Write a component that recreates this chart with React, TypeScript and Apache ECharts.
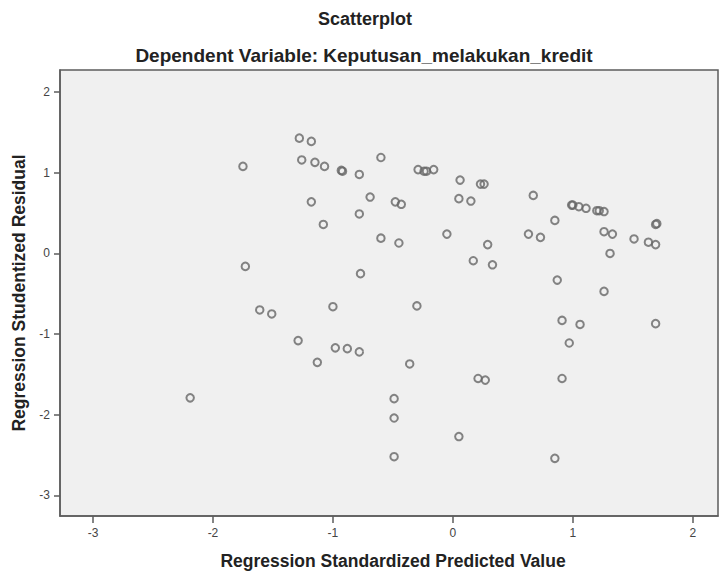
import React, { useEffect, useRef } from "react";
import * as echarts from "echarts";

const chartTitle = "Scatterplot";
const chartSubtitle = "Dependent Variable: Keputusan_melakukan_kredit";
const xAxisTitle = "Regression Standardized Predicted Value";
const yAxisTitle = "Regression Studentized Residual";

const xTickValues = [-3, -2, -1, 0, 1, 2];
const yTickValues = [-3, -2, -1, 0, 1, 2];

const predictedValues = [
  -2.19, -1.75, -1.73, -1.61, -1.51, -1.29, -1.28, -1.26, -1.18, -1.18,
  -1.15, -1.13, -1.08, -1.07, -1.0, -0.98, -0.93, -0.92, -0.88, -0.78,
  -0.78, -0.78, -0.77, -0.69, -0.6, -0.6, -0.49, -0.49, -0.49, -0.48,
  -0.45, -0.43, -0.36, -0.3, -0.29, -0.24, -0.22, -0.16, -0.05, 0.05,
  0.05, 0.06, 0.15, 0.17, 0.21, 0.23, 0.26, 0.27, 0.29, 0.33,
  0.63, 0.67, 0.73, 0.85, 0.85, 0.87, 0.91, 0.91, 0.97, 0.99,
  1.0, 1.05, 1.06, 1.11, 1.2, 1.22, 1.26, 1.26, 1.26, 1.31,
  1.33, 1.51, 1.63, 1.69, 1.7, 1.69, 1.69,
];

const residualValues = [
  -1.79, 1.08, -0.16, -0.7, -0.75, -1.08, 1.43, 1.16, 1.39, 0.64,
  1.13, -1.35, 0.36, 1.08, -0.66, -1.17, 1.03, 1.02, -1.18, 0.98,
  0.49, -1.22, -0.25, 0.7, 1.19, 0.19, -1.8, -2.04, -2.52, 0.64,
  0.13, 0.61, -1.37, -0.65, 1.04, 1.02, 1.02, 1.04, 0.24, -2.27,
  0.68, 0.91, 0.65, -0.09, -1.55, 0.86, 0.86, -1.57, 0.11, -0.14,
  0.24, 0.72, 0.2, 0.41, -2.54, -0.33, -0.83, -1.55, -1.11, 0.6,
  0.6, 0.58, -0.88, 0.56, 0.53, 0.53, 0.52, 0.27, -0.47, 0.0,
  0.24, 0.18, 0.14, 0.36, 0.37, 0.11, -0.87,
];

const FONT = "'Liberation Sans', Arial, sans-serif";

export default function App() {
  const ref = useRef<HTMLDivElement>(null);

  useEffect(() => {
    if (!ref.current) return;
    const chart = echarts.init(ref.current, undefined, { renderer: "svg" });
    const points = predictedValues.map((x, i) => [x, residualValues[i]]);

    chart.setOption({
      animation: false,
      backgroundColor: "#ffffff",
      textStyle: { fontFamily: FONT },
      grid: {
        left: 60,
        top: 70,
        right: 2,
        bottom: 65,
        show: true,
        backgroundColor: "#f0f0f0",
        borderColor: "#5c5c5c",
        borderWidth: 1.5,
      },
      xAxis: {
        type: "value",
        min: -3.275,
        max: 2.21,
        axisLine: {
          show: true,
          onZero: false,
          lineStyle: { color: "#5c5c5c", width: 1.5 },
        },
        axisTick: {
          show: true,
          length: 7,
          customValues: xTickValues,
          lineStyle: { color: "#5c5c5c", width: 1.5 },
        },
        axisLabel: {
          customValues: xTickValues,
          margin: 11,
          fontSize: 12,
          color: "#444",
          fontFamily: FONT,
        },
        splitLine: { show: false },
      },
      yAxis: {
        type: "value",
        min: -3.255,
        max: 2.275,
        axisLine: {
          show: true,
          onZero: false,
          lineStyle: { color: "#5c5c5c", width: 1.5 },
        },
        axisTick: {
          show: true,
          length: 6,
          customValues: yTickValues,
          lineStyle: { color: "#5c5c5c", width: 1.5 },
        },
        axisLabel: {
          customValues: yTickValues,
          margin: 10,
          fontSize: 12,
          color: "#444",
          fontFamily: FONT,
        },
        splitLine: { show: false },
      },
      series: [
        {
          type: "scatter",
          data: points,
          symbol: "circle",
          symbolSize: 7.5,
          itemStyle: {
            color: "rgba(0,0,0,0)",
            borderColor: "#666666",
            borderWidth: 2,
          },
          emphasis: { disabled: true },
        },
      ],
      graphic: [
        {
          type: "text",
          x: 365,
          y: 19,
          style: {
            text: chartTitle,
            fontSize: 18,
            fontWeight: "bold",
            fontFamily: FONT,
            fill: "#222",
            align: "center",
            verticalAlign: "middle",
          },
        },
        {
          type: "text",
          x: 364,
          y: 55,
          style: {
            text: chartSubtitle,
            fontSize: 19,
            fontWeight: "bold",
            fontFamily: FONT,
            fill: "#222",
            align: "center",
            verticalAlign: "middle",
          },
        },
        {
          type: "text",
          x: 393,
          y: 561,
          style: {
            text: xAxisTitle,
            fontSize: 17.5,
            fontWeight: "bold",
            fontFamily: FONT,
            fill: "#222",
            align: "center",
            verticalAlign: "middle",
          },
        },
        {
          type: "text",
          x: 19,
          y: 293,
          rotation: Math.PI / 2,
          style: {
            text: yAxisTitle,
            fontSize: 17.5,
            fontWeight: "bold",
            fontFamily: FONT,
            fill: "#222",
            align: "center",
            verticalAlign: "middle",
          },
        },
      ],
    });

    return () => chart.dispose();
  }, []);

  return (
    <div
      ref={ref}
      style={{ position: "fixed", left: 0, top: 0, width: 720, height: 581 }}
    />
  );
}
